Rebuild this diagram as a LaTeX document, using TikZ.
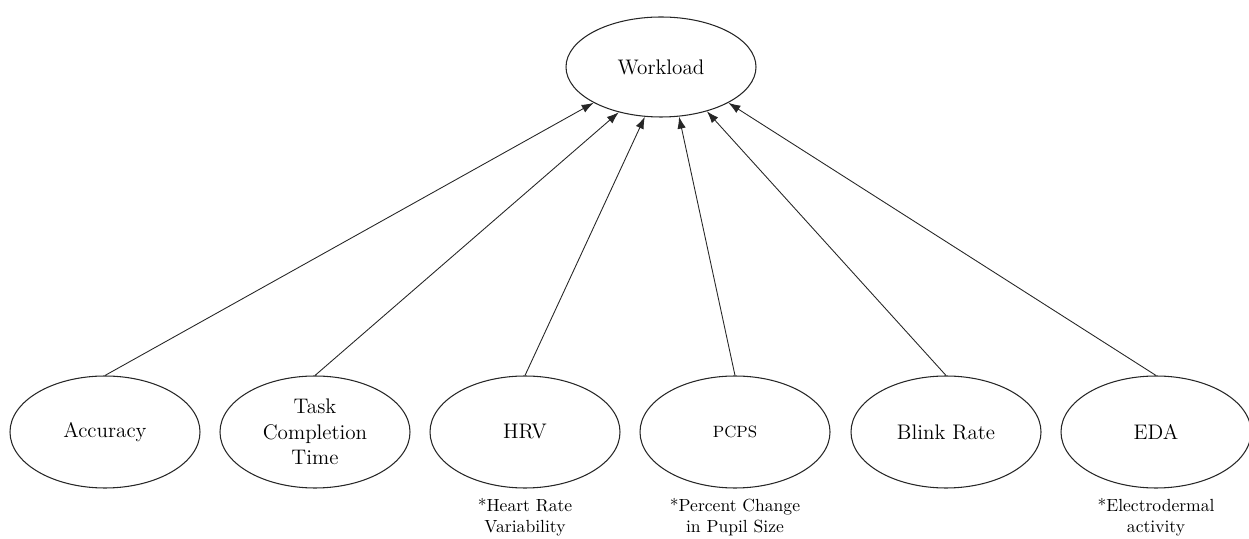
\documentclass[tikz,border=0pt]{standalone}
\usetikzlibrary{shapes.geometric,arrows.meta}
\tikzstyle{measure}=[ellipse, draw=black!85, line width=0.6pt, inner sep=0pt,
    minimum width=3.8cm, minimum height=2.24cm, align=center, font=\fontsize{12}{14.6}\selectfont]
\tikzstyle{note}=[align=center, font=\fontsize{10}{12.2}\selectfont]
\tikzstyle{feed}=[draw=black!85, line width=0.5pt, -{Latex[length=2.4mm,width=1.7mm]}]

\begin{document}
\begin{tikzpicture}
  \useasboundingbox (0,0) rectangle (24.98,-10.78);
  \node at (13.22,-1.34) (wl)[measure, minimum height=2.0cm] {Workload};

  \node at (2.1,-8.64) (acc)[measure] {Accuracy};
  \node at (6.3,-8.64) (tct)[measure] {Task\\Completion\\Time};
  \node at (10.5,-8.64) (hrv)[measure] {HRV};
  \node at (14.7,-8.64) (pcps)[measure] {\fontsize{9.3}{11}\selectfont PCPS};
  \node at (18.92,-8.64) (blink)[measure] {Blink Rate};
  \node at (23.12,-8.64) (eda)[measure] {EDA};

  % footnotes under the abbreviations
  \node at (10.5,-10.34) (hrvnote)[note] {*Heart Rate\\Variability};
  \node at (14.7,-10.34) (pcpsnote)[note] {*Percent Change\\in Pupil Size};
  \node at (23.12,-10.34) (edanote)[note] {*Electrodermal\\activity};

  \draw[feed] (acc.north) -- (wl.208);
  \draw[feed] (tct.north) -- (wl.227);
  \draw[feed] (hrv.north) -- (wl.252);
  \draw[feed] (pcps.north) -- (wl.290);
  \draw[feed] (blink.north) -- (wl.316);
  \draw[feed] (eda.north) -- (wl.332);
\end{tikzpicture}
\end{document}
